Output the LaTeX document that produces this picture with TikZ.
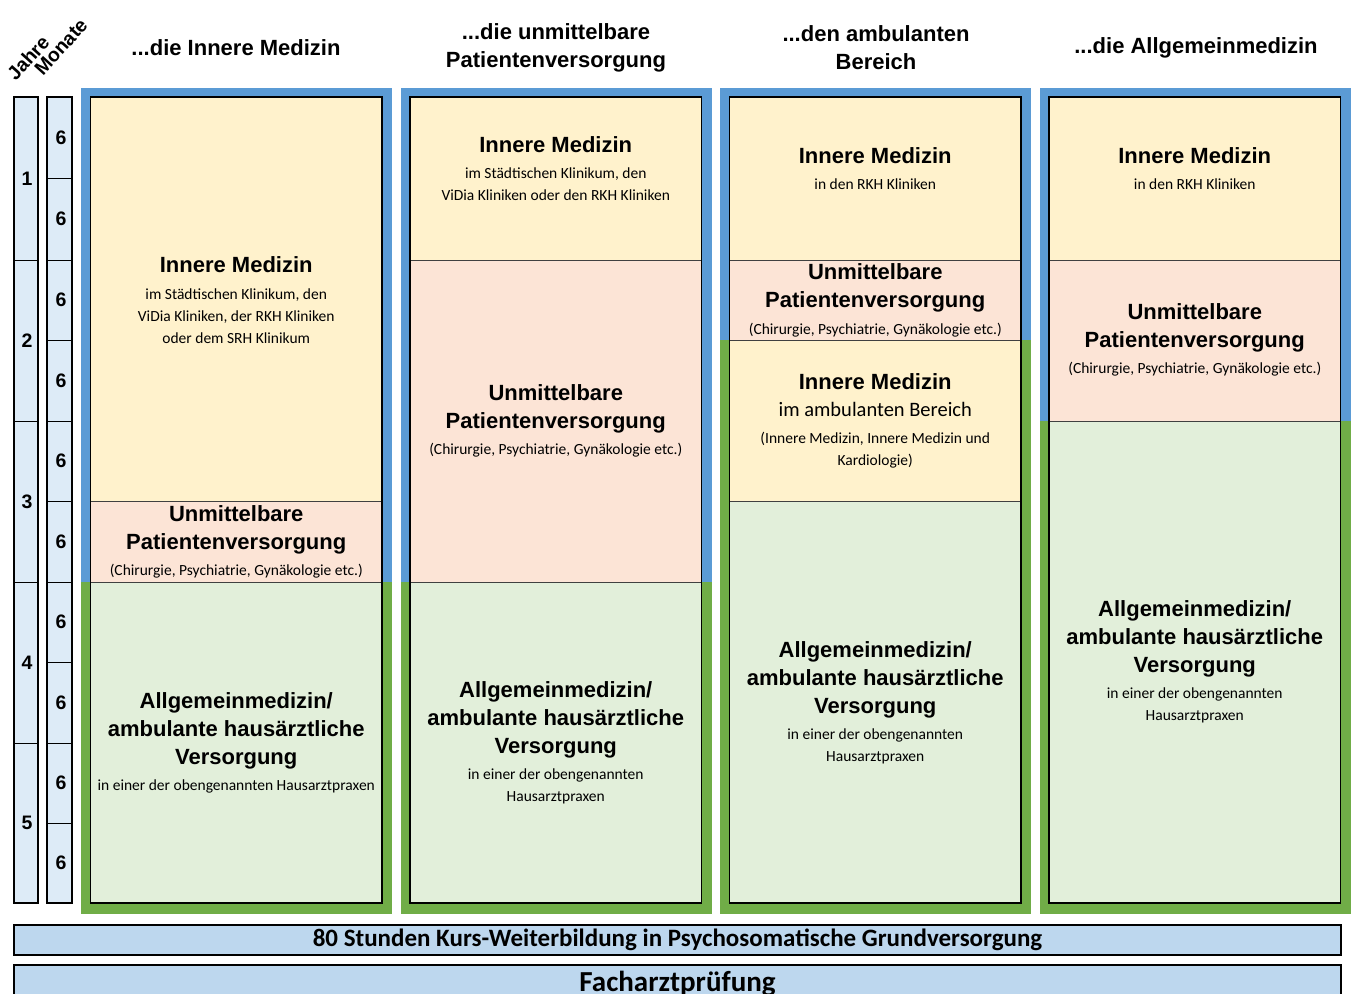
\documentclass[tikz,border=0pt]{standalone}
\usepackage{fontspec}
\setmainfont{Carlito}
\newfontfamily\hdfont{Liberation Sans}
\definecolor{fblue}{HTML}{5B9BD5}
\definecolor{fgreen}{HTML}{70AD47}
\definecolor{cyel}{HTML}{FFF2CC}
\definecolor{cpink}{HTML}{FCE4D6}
\definecolor{cgreen}{HTML}{E2EFDA}
\definecolor{tlblue}{HTML}{DDEBF7}
\definecolor{barblue}{HTML}{BDD7EE}
\newcommand\myhd{\hdfont\bfseries\fontsize{22}{28}\selectfont\spaceskip=0pt\xspaceskip=0pt\relax}
\newcommand\mysm{\normalfont\fontsize{15.5}{22}\selectfont\spaceskip=0pt\xspaceskip=0pt\relax}
\newcommand\mymd{\normalfont\fontsize{20.5}{26}\selectfont\spaceskip=0pt\xspaceskip=0pt\relax}
\newcommand\mygap{\par\vspace{4.5pt}}
\tikzset{
  secbox/.style={draw=black!75, line width=0.8pt},
  border/.style={draw=black, line width=1.8pt},
  sectext/.style={text width=300pt, inner sep=0pt, execute at begin node=\centering},
  hdr/.style={font=\myhd, align=center, inner sep=0pt},
  tlbox/.style={fill=tlblue, draw=black, line width=1.6pt},
  tlline/.style={draw=black, line width=1pt},
  num/.style={font=\hdfont\bfseries\fontsize{19.5}{22}\selectfont, inner sep=0pt},
  rothdr/.style={rotate=48, font=\hdfont\bfseries\fontsize{19.5}{22}\selectfont, inner sep=0pt},
  bar/.style={fill=barblue, draw=black, line width=1.6pt, inner sep=0pt},
}
\begin{document}
\begin{tikzpicture}[x=1pt,y=-1pt]
\useasboundingbox (0,0) rectangle (1354,993);
\clip (0,0) rectangle (1354,993);

% headers
\node[rothdr] (jahre) at (28,58) {Jahre};
\node[rothdr] (monate) at (61,47) {Monate};
\node[hdr] (h1) at (236,48) {...die Innere Medizin};
\node[hdr] (h2) at (556,48) {...die unmittelbare\\Patientenversorgung};
\node[hdr] (h3) at (876,48) {...den ambulanten\\Bereich};
\node[hdr] (h4) at (1196,48) {...die Allgemeinmedizin};

% timeline
\draw[tlbox] (14,97) rectangle (38,903);
\foreach \y in {260,421,582,743} \draw[tlline] (14,\y) -- (38,\y);
\draw[tlbox] (47,97) rectangle (72,903);
\foreach \y in {178,260,340,421,501,582,662,743,823} \draw[tlline] (47,\y) -- (72,\y);
\foreach \n/\y in {1/178.5,2/340.5,3/501.5,4/662.5,5/823} \node[num] (y\n) at (27,\y) {\n};
\foreach \y [count=\i] in {137.5,219,300,380.5,461,541.5,622,702.5,783,863} \node[num] (m\i) at (61,\y) {6};

% column frames
\fill[fblue] (81,88) rectangle (392,582);   \fill[fgreen] (81,582) rectangle (392,914);
\fill[fblue] (400.5,88) rectangle (711.5,582); \fill[fgreen] (400.5,582) rectangle (711.5,914);
\fill[fblue] (720,88) rectangle (1031,340); \fill[fgreen] (720,340) rectangle (1031,914);
\fill[fblue] (1039.5,88) rectangle (1350.5,421); \fill[fgreen] (1039.5,421) rectangle (1350.5,914);

% column 1
\filldraw[secbox, fill=cyel] (90.5,97) rectangle (382,501);
\filldraw[secbox, fill=cpink] (90.5,501) rectangle (382,582);
\filldraw[secbox, fill=cgreen] (90.5,582) rectangle (382,903);
\draw[border] (90.5,97) rectangle (382,903);
% column 2
\filldraw[secbox, fill=cyel] (410,97) rectangle (701.5,260);
\filldraw[secbox, fill=cpink] (410,260) rectangle (701.5,582);
\filldraw[secbox, fill=cgreen] (410,582) rectangle (701.5,903);
\draw[border] (410,97) rectangle (701.5,903);
% column 3
\filldraw[secbox, fill=cyel] (729.5,97) rectangle (1021,260);
\filldraw[secbox, fill=cpink] (729.5,260) rectangle (1021,340);
\filldraw[secbox, fill=cyel] (729.5,340) rectangle (1021,501);
\filldraw[secbox, fill=cgreen] (729.5,501) rectangle (1021,903);
\draw[border] (729.5,97) rectangle (1021,903);
% column 4
\filldraw[secbox, fill=cyel] (1049,97) rectangle (1340.5,260);
\filldraw[secbox, fill=cpink] (1049,260) rectangle (1340.5,421);
\filldraw[secbox, fill=cgreen] (1049,421) rectangle (1340.5,903);
\draw[border] (1049,97) rectangle (1340.5,903);

% texts column 1
\node[sectext] (c1a) at (236.25,300) {\myhd Innere Medizin\mygap\mysm im Städtischen Klinikum, den\\ViDia Kliniken, der RKH Kliniken\\oder dem SRH Klinikum\par};
\node[sectext] (c1b) at (236.25,542) {\myhd Unmittelbare\\Patientenversorgung\mygap\mysm (Chirurgie, Psychiatrie, Gynäkologie etc.)\par};
\node[sectext] (c1c) at (236.25,743) {\myhd Allgemeinmedizin/\\ambulante hausärztliche\\Versorgung\mygap\mysm in einer der obengenannten Hausarztpraxen\par};
% texts column 2
\node[sectext] (c2a) at (555.75,168.5) {\myhd Innere Medizin\mygap\mysm im Städtischen Klinikum, den\\ViDia Kliniken oder den RKH Kliniken\par};
\node[sectext] (c2b) at (555.75,421) {\myhd Unmittelbare\\Patientenversorgung\mygap\mysm (Chirurgie, Psychiatrie, Gynäkologie etc.)\par};
\node[sectext] (c2c) at (555.75,743) {\myhd Allgemeinmedizin/\\ambulante hausärztliche\\Versorgung\mygap\mysm in einer der obengenannten\\Hausarztpraxen\par};
% texts column 3
\node[sectext] (c3a) at (875.25,168.5) {\myhd Innere Medizin\mygap\mysm in den RKH Kliniken\par};
\node[sectext] (c3b) at (875.25,300.5) {\myhd Unmittelbare\\Patientenversorgung\mygap\mysm (Chirurgie, Psychiatrie, Gynäkologie etc.)\par};
\node[sectext] (c3c) at (875.25,421) {\myhd Innere Medizin\par\vspace{1pt}\mymd im ambulanten Bereich\mygap\mysm (Innere Medizin, Innere Medizin und\\Kardiologie)\par};
\node[sectext] (c3d) at (875.25,703) {\myhd Allgemeinmedizin/\\ambulante hausärztliche\\Versorgung\mygap\mysm in einer der obengenannten\\Hausarztpraxen\par};
% texts column 4
\node[sectext] (c4a) at (1194.75,168.5) {\myhd Innere Medizin\mygap\mysm in den RKH Kliniken\par};
\node[sectext] (c4b) at (1194.75,340) {\myhd Unmittelbare\\Patientenversorgung\mygap\mysm (Chirurgie, Psychiatrie, Gynäkologie etc.)\par};
\node[sectext] (c4c) at (1194.75,662) {\myhd Allgemeinmedizin/\\ambulante hausärztliche\\Versorgung\mygap\mysm in einer der obengenannten\\Hausarztpraxen\par};

% bottom bars
\node[bar, minimum width=1327pt, minimum height=30pt, font=\bfseries\fontsize{25}{27}\selectfont] (kurs) at (677.5,940) {80 Stunden Kurs-Weiterbildung in Psychosomatische Grundversorgung};
\node[bar, minimum width=1327pt, minimum height=50pt] (fbar) at (677.5,990) {};
\node[anchor=base, inner sep=0pt, font=\bfseries\fontsize{29}{32}\selectfont] (fa) at (677.5,991) {Facharztprüfung};
\end{tikzpicture}
\end{document}
